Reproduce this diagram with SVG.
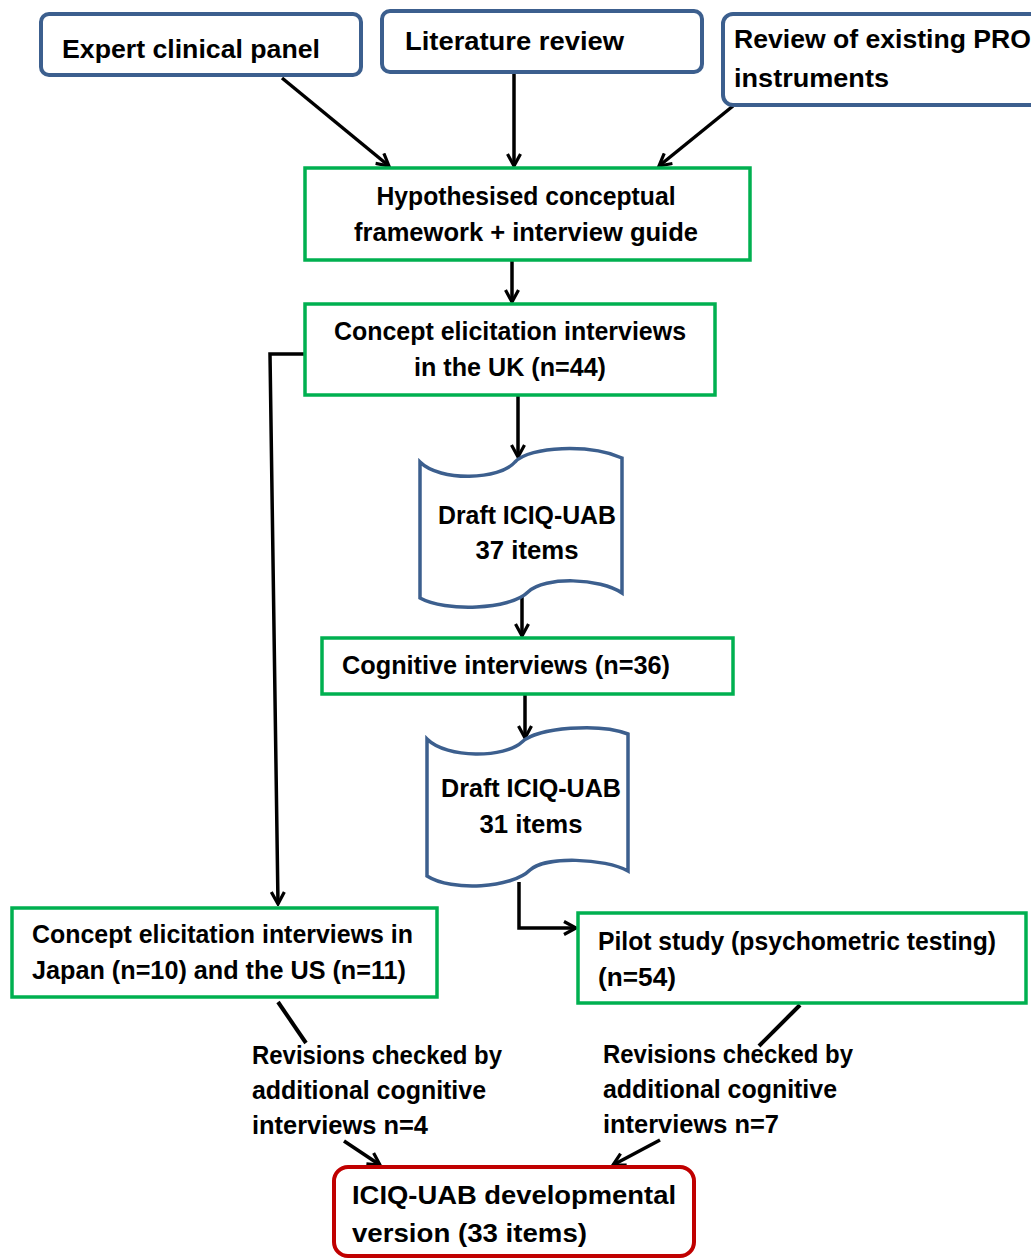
<svg xmlns="http://www.w3.org/2000/svg" width="1031" height="1258" viewBox="0 0 1031 1258">
<defs>
<marker id="ah" viewBox="0 0 16 16" refX="14" refY="8" markerWidth="16" markerHeight="16" markerUnits="userSpaceOnUse" orient="auto">
<path d="M2,1.5 L14,8 L2,14.5" fill="none" stroke="#000" stroke-width="3.2"/>
</marker>
<style>
text{font-family:"Liberation Sans",Arial,sans-serif;font-weight:bold;font-size:25px;fill:#000}
.blue{fill:#fff;stroke:#3C5F8E;stroke-width:4}
.green{fill:#fff;stroke:#00B050;stroke-width:3.5}
.red{fill:#fff;stroke:#C00000;stroke-width:4}
.doc{fill:#fff;stroke:#3C5F8E;stroke-width:3.5}
.c{text-anchor:middle}
.ln{fill:none;stroke:#000;stroke-width:4}
.arr{fill:none;stroke:#000;stroke-width:3.5;marker-end:url(#ah)}
</style>
</defs>
<rect width="1031" height="1258" fill="#fff"/>
<g id="connectors">
<line class="arr" x1="282" y1="78" x2="389" y2="166"/>
<line class="arr" x1="514" y1="73" x2="514" y2="166"/>
<line class="arr" x1="733" y1="106" x2="659" y2="166"/>
<line class="arr" x1="512" y1="261" x2="512" y2="302"/>
<line class="arr" x1="518" y1="396" x2="518" y2="457"/>
<polyline class="arr" points="305,354 270,354 278,904"/>
<line class="arr" x1="522" y1="592" x2="522" y2="636"/>
<line class="arr" x1="525" y1="695" x2="525" y2="738"/>
<polyline class="arr" points="519,882 519,928 576,928"/>
<line class="ln" x1="278" y1="1002" x2="306" y2="1043"/>
<line class="ln" x1="800" y1="1005" x2="759" y2="1046"/>
<line class="arr" x1="344" y1="1141" x2="380" y2="1165"/>
<line class="arr" x1="660" y1="1140" x2="613" y2="1165"/>
</g>
<g id="expert">
<rect class="blue" x="41" y="14" width="320" height="61" rx="8"/>
<text x="62" y="58" textLength="258" lengthAdjust="spacingAndGlyphs" font-size="27">Expert clinical panel</text>
</g>
<g id="literature">
<rect class="blue" x="382" y="11" width="320" height="61" rx="8"/>
<text x="405" y="50" textLength="219" lengthAdjust="spacingAndGlyphs" font-size="27">Literature review</text>
</g>
<g id="review">
<rect class="blue" x="723" y="14" width="330" height="91" rx="10"/>
<text x="734" y="48" textLength="297" lengthAdjust="spacingAndGlyphs" font-size="27">Review of existing PRO</text>
<text x="734" y="87" textLength="155" lengthAdjust="spacingAndGlyphs" font-size="27">instruments</text>
</g>
<g id="hypothesised">
<rect class="green" x="305" y="168" width="445" height="92"/>
<text class="c" x="526" y="205" textLength="299" lengthAdjust="spacingAndGlyphs" font-size="27">Hypothesised conceptual</text>
<text class="c" x="526" y="241" textLength="344" lengthAdjust="spacingAndGlyphs" font-size="27">framework + interview guide</text>
</g>
<g id="concept-uk">
<rect class="green" x="305" y="304" width="410" height="91"/>
<text class="c" x="510" y="340" textLength="352" lengthAdjust="spacingAndGlyphs">Concept elicitation interviews</text>
<text class="c" x="510" y="376" textLength="192" lengthAdjust="spacingAndGlyphs">in the UK (n=44)</text>
</g>
<g id="draft37">
<path class="doc" d="M420,462 C440,482 500,480 515,462 C530,446 590,444 622,458 L622,593 C600,578 545,576 528,592 C510,610 445,612 420,598 Z"/>
<text class="c" x="527" y="524" textLength="178" lengthAdjust="spacingAndGlyphs">Draft ICIQ-UAB</text>
<text class="c" x="527" y="559" textLength="103" lengthAdjust="spacingAndGlyphs">37 items</text>
</g>
<g id="cognitive">
<rect class="green" x="322" y="638" width="411" height="56"/>
<text x="342" y="674" textLength="328" lengthAdjust="spacingAndGlyphs">Cognitive interviews (n=36)</text>
</g>
<g id="draft31">
<path class="doc" d="M427,739 C447,759 505,758 522,742 C538,727 600,723 628,734 L628,871 C605,858 545,856 530,870 C512,888 452,892 427,876 Z"/>
<text class="c" x="531" y="797" textLength="180" lengthAdjust="spacingAndGlyphs">Draft ICIQ-UAB</text>
<text class="c" x="531" y="833" textLength="103" lengthAdjust="spacingAndGlyphs">31 items</text>
</g>
<g id="concept-japan">
<rect class="green" x="12" y="908" width="425" height="89"/>
<text x="32" y="943" textLength="381" lengthAdjust="spacingAndGlyphs">Concept elicitation interviews in</text>
<text x="32" y="979" textLength="374" lengthAdjust="spacingAndGlyphs">Japan (n=10) and the US (n=11)</text>
</g>
<g id="pilot">
<rect class="green" x="578" y="913" width="448" height="90"/>
<text x="598" y="950" textLength="398" lengthAdjust="spacingAndGlyphs">Pilot study (psychometric testing)</text>
<text x="598" y="986" textLength="78" lengthAdjust="spacingAndGlyphs">(n=54)</text>
</g>
<g id="label-left">
<text x="252" y="1064" textLength="250" lengthAdjust="spacingAndGlyphs">Revisions checked by</text>
<text x="252" y="1099" textLength="234" lengthAdjust="spacingAndGlyphs">additional cognitive</text>
<text x="252" y="1134" textLength="176" lengthAdjust="spacingAndGlyphs">interviews n=4</text>
</g>
<g id="label-right">
<text x="603" y="1063" textLength="250" lengthAdjust="spacingAndGlyphs">Revisions checked by</text>
<text x="603" y="1098" textLength="234" lengthAdjust="spacingAndGlyphs">additional cognitive</text>
<text x="603" y="1133" textLength="176" lengthAdjust="spacingAndGlyphs">interviews n=7</text>
</g>
<g id="final">
<rect class="red" x="334" y="1167" width="360" height="89" rx="14"/>
<text x="352" y="1204" textLength="324" lengthAdjust="spacingAndGlyphs" font-size="27">ICIQ-UAB developmental</text>
<text x="352" y="1242" textLength="235" lengthAdjust="spacingAndGlyphs" font-size="27">version (33 items)</text>
</g>
</svg>
